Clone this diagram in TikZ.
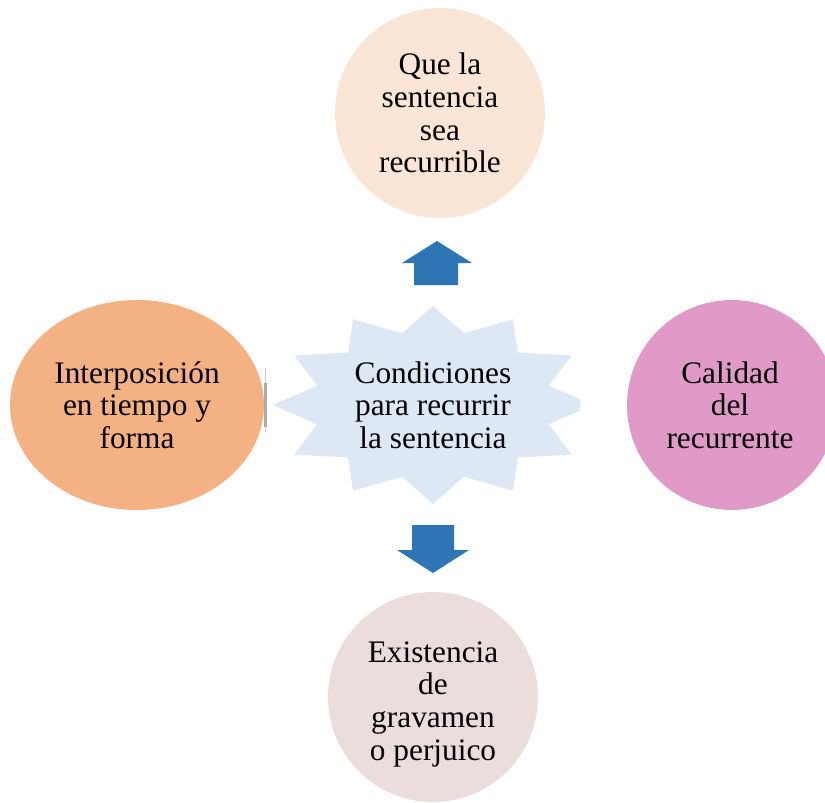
\documentclass[tikz,border=0pt]{standalone}
\usepackage{fontspec}
\setmainfont{Liberation Serif}
\usetikzlibrary{shapes.geometric}
\definecolor{topc}{HTML}{FBE5D6}
\definecolor{leftc}{HTML}{F4B183}
\definecolor{rightc}{HTML}{DF9AC8}
\definecolor{botc}{HTML}{EADDDB}
\definecolor{starc}{HTML}{DEE8F4}
\definecolor{arrc}{HTML}{2E75B6}
\tikzset{
  blob/.style={draw=none, inner sep=0pt, align=center, font=\fontsize{23.5}{24.5}\selectfont},
  roundblob/.style={blob, circle, minimum size=157.5pt},
  blockarrow/.style={fill=arrc, draw=none}
}
\begin{document}
\begin{tikzpicture}[x=0.75pt, y=-0.75pt]
\useasboundingbox (0,0) rectangle (825,803);
\clip (0,0) rectangle (825,803);
% central star
\begin{scope}
\clip (0,0) rectangle (580,803);
\fill[starc] (433,306) \foreach \i in {1,...,23} {
  -- ({433+160*(1-0.25*mod(\i,2))*cos(90+15*\i)}, {405-99*(1-0.25*mod(\i,2))*sin(90+15*\i)})
} -- cycle;
\end{scope}
\node[blob] (center) at (433,405) {Condiciones\\para recurrir\\la sentencia};
% outer shapes
\node[roundblob, fill=topc] (top) at (440,113) {Que la\\sentencia\\sea\\recurrible};
\node[blob, ellipse, fill=leftc, minimum width=190.5pt, minimum height=157.5pt] (left) at (137,405) {Interposición\\en tiempo y\\forma};
\node[roundblob, fill=rightc] (right) at (732,405) {};
\node[blob] (righttext) at (730,405) {Calidad\\del\\recurrente};
\node[roundblob, fill=botc] (bottom) at (433,697) {};
\node[blob] (bottomtext) at (433,704) {Existencia\\de\\gravamen\\o perjuico};
% block arrows
\fill[blockarrow] (437,241) -- (472,263) -- (458,263) -- (458,285) -- (414,285) -- (414,263) -- (402,263) -- cycle;
\fill[blockarrow] (412,525) -- (454,525) -- (454,550) -- (469,550) -- (433,573) -- (397,550) -- (412,550) -- cycle;
% small gray mark
\draw[gray!40, line width=0.4pt] (265.7,368) -- (265.7,432);
\fill[gray!65] (264.3,383) rectangle (267,427);
\end{tikzpicture}
\end{document}
